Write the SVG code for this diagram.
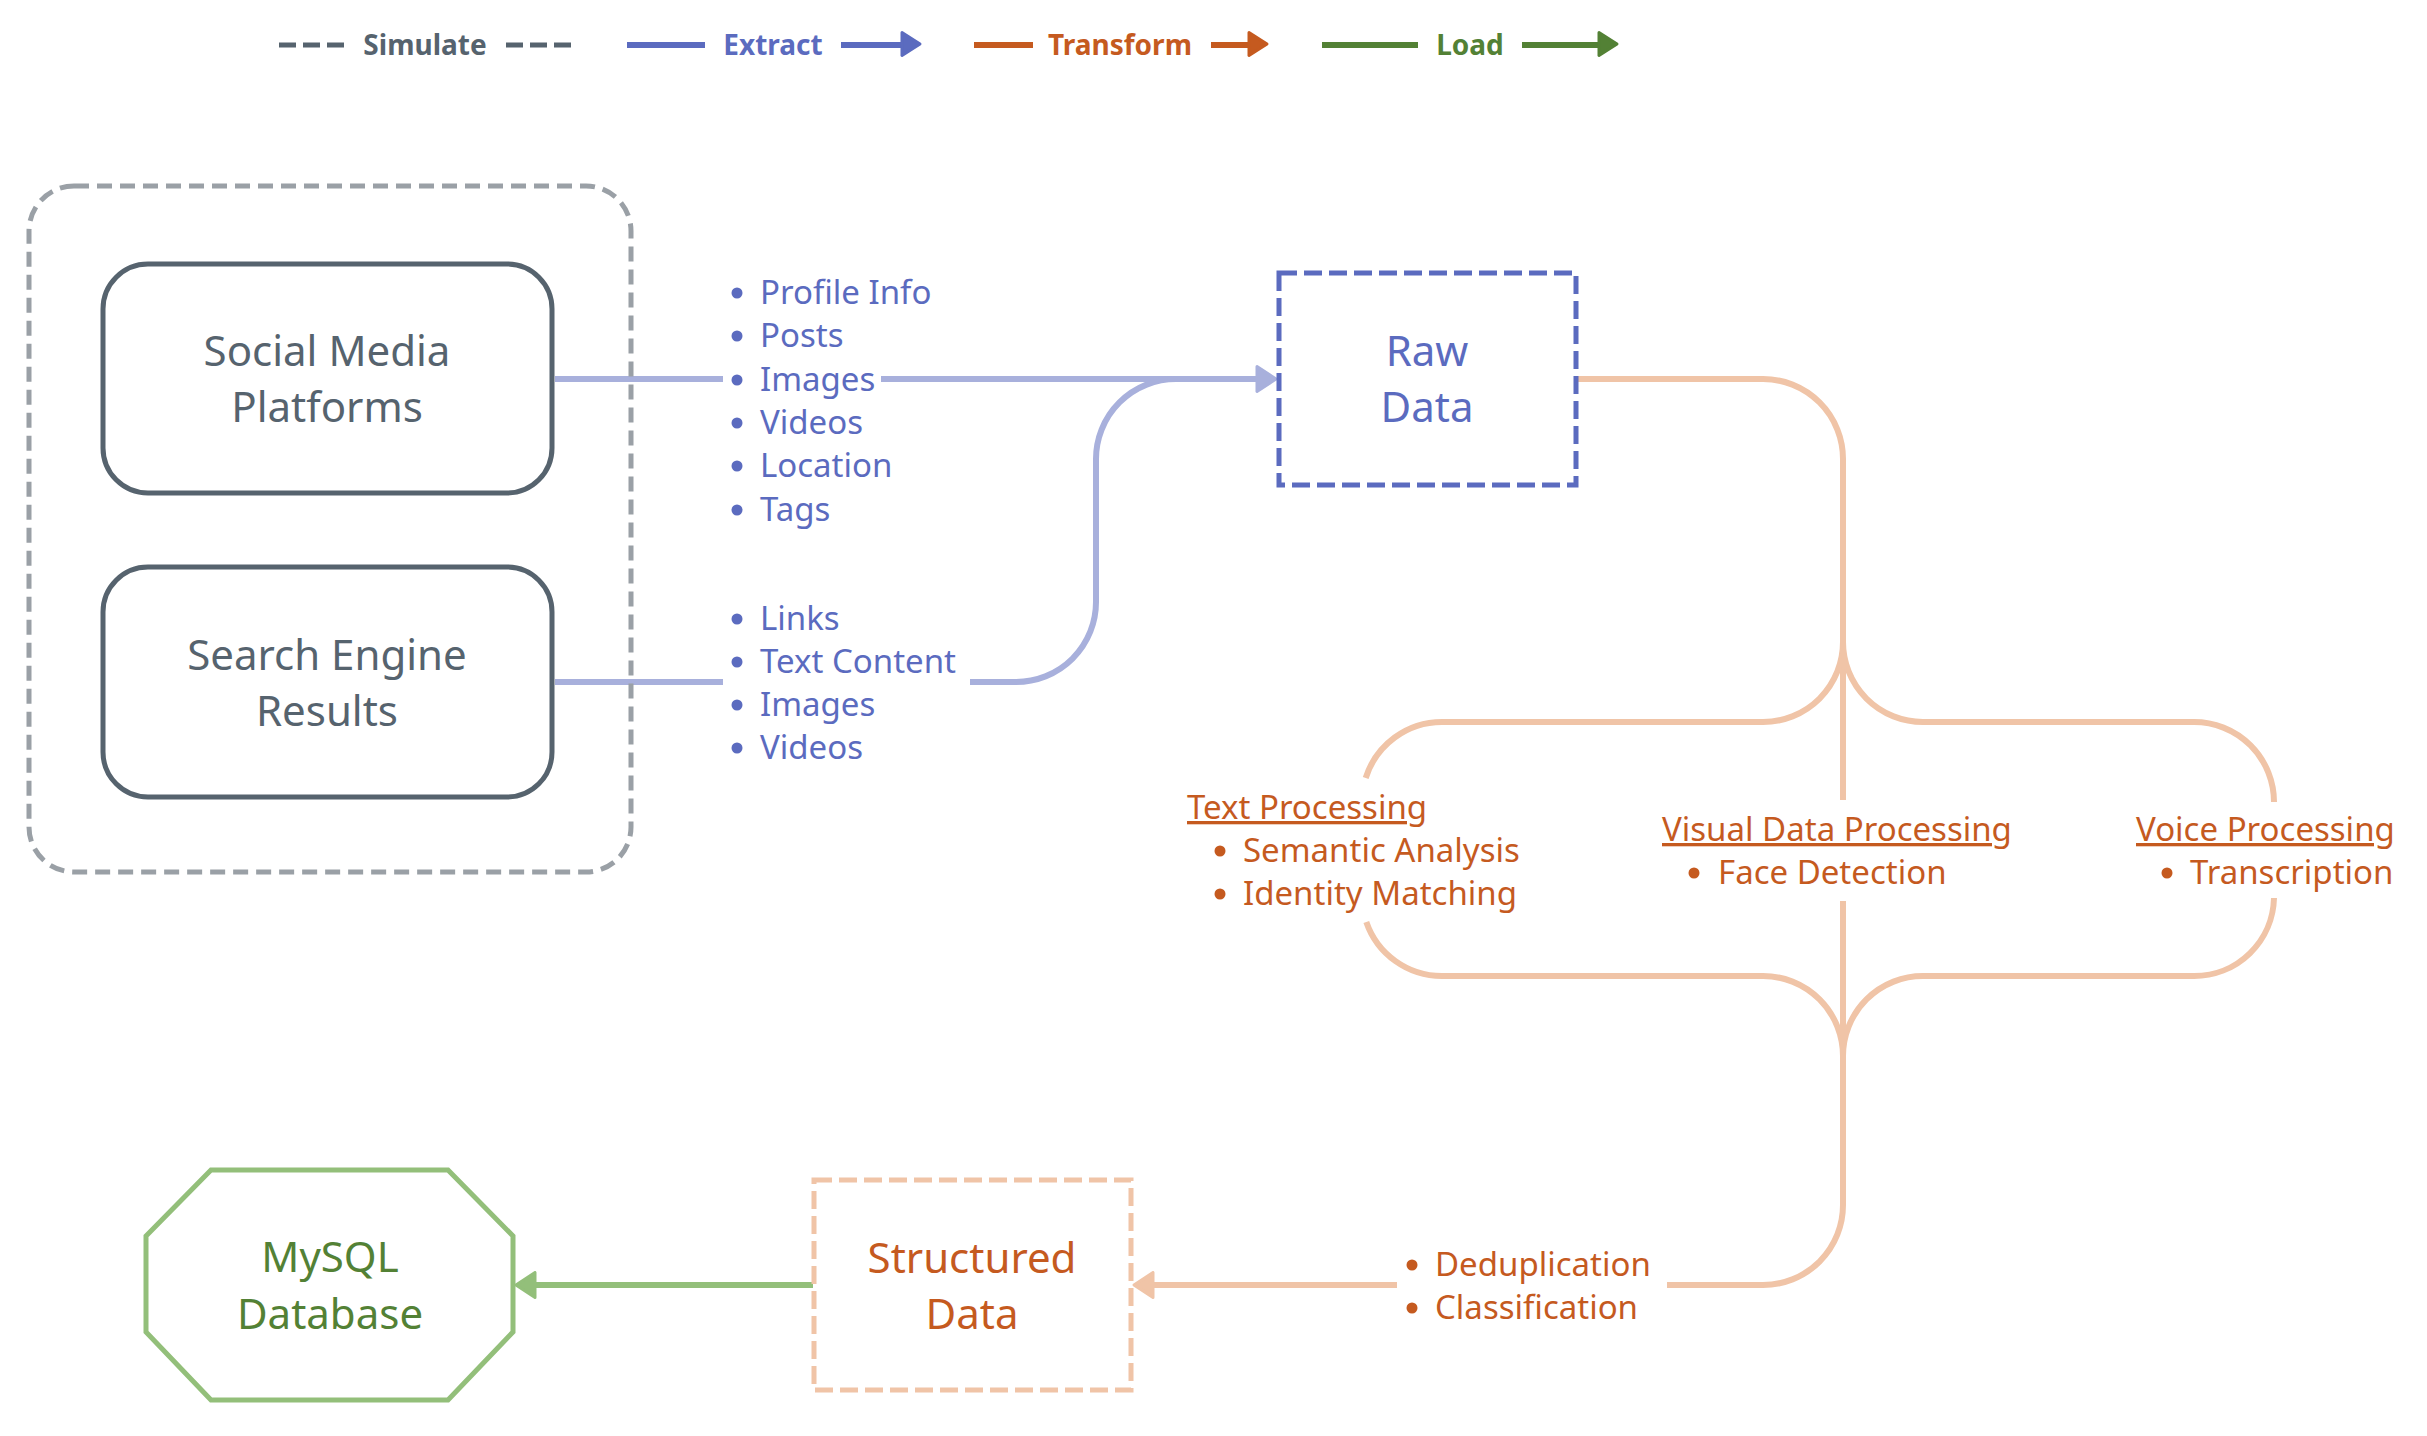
<svg xmlns="http://www.w3.org/2000/svg" width="2427" height="1436" viewBox="0 0 2427 1436">
<style>
text{font-family:"Noto Sans","Open Sans","Liberation Sans",sans-serif}
.leg{font-size:28px;font-weight:bold;text-anchor:middle}
.node{font-size:42px;text-anchor:middle}
.item{font-size:33px}
.bl{fill:#5b6bbf}.or{fill:#c55a1f}.gr{fill:#538135}.sl{fill:#56636e}
.cb{fill:none;stroke:#a8b0dc;stroke-width:6}
.co{fill:none;stroke:#f0c4a7;stroke-width:6}
.cg{fill:none;stroke:#93bf7a;stroke-width:6}
.u{text-decoration:underline}
.mk{stroke-width:3;stroke-linejoin:round}
</style>
<defs>
<marker id="ab" viewBox="-2 -2 24 29" refX="0" refY="12.5" markerWidth="24" markerHeight="29" markerUnits="userSpaceOnUse" orient="auto"><path class="mk" d="M0,0 L19,12.5 L0,25 Z" fill="#a8b0dc" stroke="#a8b0dc"/></marker>
<marker id="ao" viewBox="-2 -2 24 29" refX="0" refY="12.5" markerWidth="24" markerHeight="29" markerUnits="userSpaceOnUse" orient="auto"><path class="mk" d="M0,0 L19,12.5 L0,25 Z" fill="#f0c4a7" stroke="#f0c4a7"/></marker>
<marker id="ag" viewBox="-2 -2 24 29" refX="0" refY="12.5" markerWidth="24" markerHeight="29" markerUnits="userSpaceOnUse" orient="auto"><path class="mk" d="M0,0 L19,12.5 L0,25 Z" fill="#93bf7a" stroke="#93bf7a"/></marker>
<marker id="lb" viewBox="-2 -2 24 29" refX="0" refY="12.5" markerWidth="24" markerHeight="29" markerUnits="userSpaceOnUse" orient="auto"><path class="mk" d="M0,0 L18,11.5 L0,23 Z" fill="#5b6bbf" stroke="#5b6bbf"/></marker>
<marker id="lo" viewBox="-2 -2 24 29" refX="0" refY="12.5" markerWidth="24" markerHeight="29" markerUnits="userSpaceOnUse" orient="auto"><path class="mk" d="M0,0 L18,11.5 L0,23 Z" fill="#c55a1f" stroke="#c55a1f"/></marker>
<marker id="lg" viewBox="-2 -2 24 29" refX="0" refY="12.5" markerWidth="24" markerHeight="29" markerUnits="userSpaceOnUse" orient="auto"><path class="mk" d="M0,0 L18,11.5 L0,23 Z" fill="#538135" stroke="#538135"/></marker>
</defs>
<rect width="2427" height="1436" fill="#ffffff"/>

<g id="legend">
<path d="M279,45 H344 M506,45 H573" stroke="#56636e" stroke-width="5" stroke-dasharray="17 7" fill="none"/>
<text x="425" y="55" class="leg sl">Simulate</text>
<path d="M627,45 H705" stroke="#5b6bbf" stroke-width="6"/>
<text x="773" y="55" class="leg bl">Extract</text>
<path d="M841,45 H902" stroke="#5b6bbf" stroke-width="6" marker-end="url(#lb)"/>
<path d="M974,45 H1033" stroke="#c55a1f" stroke-width="6"/>
<text x="1120" y="55" class="leg or">Transform</text>
<path d="M1211,45 H1249" stroke="#c55a1f" stroke-width="6" marker-end="url(#lo)"/>
<path d="M1322,45 H1418" stroke="#538135" stroke-width="6"/>
<text x="1470" y="55" class="leg gr">Load</text>
<path d="M1522,45 H1599" stroke="#538135" stroke-width="6" marker-end="url(#lg)"/>
</g>

<g id="connectors">
<path class="cb" d="M555,379 H723"/>
<path class="cb" d="M881,379 H1257" marker-end="url(#ab)"/>
<path class="cb" d="M555,682 H723"/>
<path class="cb" d="M970,682 H1016 A80,80 0 0 0 1096,602 V459 A80,80 0 0 1 1176,379"/>
<path class="co" d="M1578,379 H1763 A80,80 0 0 1 1843,459 V800"/>
<path class="co" d="M1843,642 A80,80 0 0 1 1763,722 H1442 A80,80 0 0 0 1365.7,778"/>
<path class="co" d="M1843,642 A80,80 0 0 0 1923,722 H2194 A80,80 0 0 1 2274,802"/>
<path class="co" d="M1366.3,922 A80,80 0 0 0 1442,976 H1763 A80,80 0 0 1 1843,1056"/>
<path class="co" d="M2274,898 A80,80 0 0 1 2194,976 H1923 A80,80 0 0 0 1843,1056"/>
<path class="co" d="M1843,901 V1205 A80,80 0 0 1 1763,1285 H1667"/>
<path class="co" d="M1397,1285 H1153" marker-end="url(#ao)"/>
<path class="cg" d="M813,1285 H535" marker-end="url(#ag)"/>
</g>

<g id="simulate-group">
<rect x="29" y="186" width="602" height="686" rx="45" fill="none" stroke="#9aa0a6" stroke-width="5" stroke-dasharray="15 8"/>
</g>

<g id="social-media">
<rect x="103" y="264" width="449" height="229" rx="45" fill="#ffffff" stroke="#56636e" stroke-width="5"/>
<text x="327" y="366" class="node sl">Social Media</text>
<text x="327" y="422" class="node sl">Platforms</text>
</g>

<g id="search-engine">
<rect x="103" y="567" width="449" height="230" rx="45" fill="#ffffff" stroke="#56636e" stroke-width="5"/>
<text x="327" y="670" class="node sl">Search Engine</text>
<text x="327" y="726" class="node sl">Results</text>
</g>

<g id="social-items">
<g class="bl"><circle cx="737" cy="293" r="5.5"/><circle cx="737" cy="336" r="5.5"/><circle cx="737" cy="380" r="5.5"/><circle cx="737" cy="423" r="5.5"/><circle cx="737" cy="466" r="5.5"/><circle cx="737" cy="510" r="5.5"/></g>
<text x="760" y="304" class="item bl">Profile Info</text>
<text x="760" y="347" class="item bl">Posts</text>
<text x="760" y="391" class="item bl">Images</text>
<text x="760" y="434" class="item bl">Videos</text>
<text x="760" y="477" class="item bl">Location</text>
<text x="760" y="521" class="item bl">Tags</text>
</g>

<g id="search-items">
<g class="bl"><circle cx="737" cy="619" r="5.5"/><circle cx="737" cy="662" r="5.5"/><circle cx="737" cy="705" r="5.5"/><circle cx="737" cy="748" r="5.5"/></g>
<text x="760" y="630" class="item bl">Links</text>
<text x="760" y="673" class="item bl">Text Content</text>
<text x="760" y="716" class="item bl">Images</text>
<text x="760" y="759" class="item bl">Videos</text>
</g>

<g id="raw-data">
<rect x="1279" y="273" width="297" height="212" fill="#ffffff" stroke="#5b6bbf" stroke-width="5" stroke-dasharray="18 7"/>
<text x="1427" y="366" class="node bl">Raw</text>
<text x="1427" y="422" class="node bl">Data</text>
</g>

<g id="text-processing">
<text x="1187" y="819" class="item or u">Text Processing</text>
<g class="or"><circle cx="1220" cy="851" r="5.5"/><circle cx="1220" cy="894" r="5.5"/></g>
<text x="1243" y="862" class="item or">Semantic Analysis</text>
<text x="1243" y="905" class="item or">Identity Matching</text>
</g>

<g id="visual-processing">
<text x="1662" y="841" class="item or u">Visual Data Processing</text>
<circle cx="1694" cy="873" r="5.5" class="or"/>
<text x="1718" y="884" class="item or">Face Detection</text>
</g>

<g id="voice-processing">
<text x="2136" y="841" class="item or u">Voice Processing</text>
<circle cx="2167" cy="873" r="5.5" class="or"/>
<text x="2190" y="884" class="item or">Transcription</text>
</g>

<g id="load-items">
<g class="or"><circle cx="1412" cy="1265" r="5.5"/><circle cx="1412" cy="1308" r="5.5"/></g>
<text x="1435" y="1276" class="item or">Deduplication</text>
<text x="1435" y="1319" class="item or">Classification</text>
</g>

<g id="structured-data">
<rect x="814" y="1180" width="317" height="210" fill="#ffffff" stroke="#f0c4a7" stroke-width="5" stroke-dasharray="18 7"/>
<text x="972" y="1273" class="node or">Structured</text>
<text x="972" y="1329" class="node or">Data</text>
</g>

<g id="mysql">
<polygon points="211,1170 448,1170 513,1236 513,1332 448,1400 211,1400 146,1332 146,1236" fill="#ffffff" stroke="#93bf7a" stroke-width="5"/>
<text x="330" y="1272" class="node gr">MySQL</text>
<text x="330" y="1329" class="node gr">Database</text>
</g>
</svg>
